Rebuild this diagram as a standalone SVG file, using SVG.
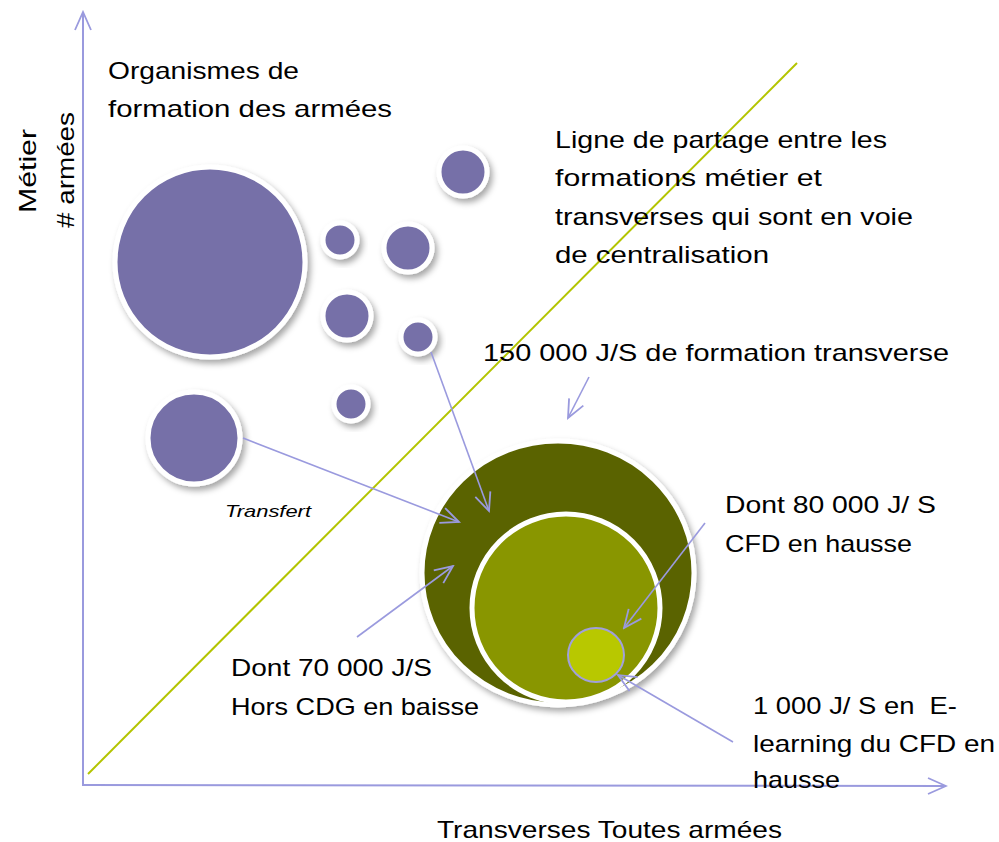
<svg xmlns="http://www.w3.org/2000/svg" width="999" height="842" viewBox="0 0 999 842">
<style>
text{font-family:"Liberation Sans",Arial,sans-serif;font-size:24px;fill:#000}
.it{font-style:italic;font-size:17px}
.pc{fill:#7670a8;stroke:#fff;stroke-width:5;filter:url(#sh)}
.conn{stroke:#9a9ade;stroke-width:1.6;fill:none}
.ax{stroke:#9a9ade;stroke-width:2;fill:none}
</style>
<defs>
<filter id="sh" x="-20%" y="-20%" width="150%" height="150%">
<feDropShadow dx="3" dy="4" stdDeviation="3" flood-color="#000" flood-opacity="0.35"/>
</filter>
<marker id="ah" viewBox="0 0 22 22" refX="20" refY="11" markerWidth="22" markerHeight="22" markerUnits="userSpaceOnUse" orient="auto">
<path d="M2,3 L20,11 L2,19" fill="none" stroke="#9a9ade" stroke-width="1.8"/>
</marker>
</defs>
<g id="axes">
<line class="ax" x1="83" y1="786" x2="83" y2="12" marker-end="url(#ah)"/>
<line class="ax" x1="83" y1="785" x2="946" y2="786" marker-end="url(#ah)"/>
<line x1="88" y1="774" x2="797" y2="63" stroke="#b3c400" stroke-width="2"/>
</g>
<g id="organismes">
<circle id="c-big" class="pc" cx="210" cy="262" r="95"/>
<circle id="c1" class="pc" cx="463" cy="172" r="24"/>
<circle id="c2" class="pc" cx="340" cy="240" r="17"/>
<circle id="c3" class="pc" cx="408" cy="248" r="24"/>
<circle id="c4" class="pc" cx="347" cy="316" r="24"/>
<circle id="c5" class="pc" cx="418" cy="337" r="17"/>
<circle id="c6" class="pc" cx="351" cy="404" r="17"/>
<circle id="c7" class="pc" cx="194" cy="438" r="46"/>
</g>
<g id="transverse">
<ellipse cx="558" cy="573" rx="136" ry="132" fill="#5a6300" stroke="#fff" stroke-width="5" filter="url(#sh)"/>
<circle cx="566" cy="608" r="94" fill="#899600" stroke="#fff" stroke-width="5"/>
<ellipse cx="596" cy="655" rx="28" ry="27" fill="#b8c800" stroke="#a0a0dc" stroke-width="2"/>
</g>
<g id="connectors">
<line class="conn" x1="431" y1="352" x2="489" y2="511" marker-end="url(#ah)"/>
<line class="conn" x1="243" y1="438" x2="459" y2="522" marker-end="url(#ah)"/>
<line class="conn" x1="357" y1="637" x2="453" y2="566" marker-end="url(#ah)"/>
<line class="conn" x1="589" y1="377" x2="568" y2="418" marker-end="url(#ah)"/>
<line class="conn" x1="705" y1="523" x2="624" y2="628" marker-end="url(#ah)"/>
<line class="conn" x1="733" y1="742" x2="618" y2="675" marker-end="url(#ah)"/>
</g>
<g id="labels">
<text x="108" y="79" textLength="191" lengthAdjust="spacingAndGlyphs">Organismes de</text>
<text x="108" y="117" textLength="284" lengthAdjust="spacingAndGlyphs">formation des armées</text>
<text transform="translate(36,171) rotate(-90)" text-anchor="middle" textLength="84" lengthAdjust="spacingAndGlyphs">Métier</text>
<text transform="translate(74,170) rotate(-90)" text-anchor="middle" textLength="116" lengthAdjust="spacingAndGlyphs"># armées</text>
<text x="555" y="148" textLength="332" lengthAdjust="spacingAndGlyphs">Ligne de partage entre les</text>
<text x="555" y="186" textLength="267" lengthAdjust="spacingAndGlyphs">formations métier et</text>
<text x="555" y="225" textLength="358" lengthAdjust="spacingAndGlyphs">transverses qui sont en voie</text>
<text x="555" y="263" textLength="214" lengthAdjust="spacingAndGlyphs">de centralisation</text>
<text x="483" y="361" textLength="466" lengthAdjust="spacingAndGlyphs">150 000 J/S de formation transverse</text>
<text class="it" x="225" y="517" textLength="86" lengthAdjust="spacingAndGlyphs">Transfert</text>
<text x="725" y="513" textLength="211" lengthAdjust="spacingAndGlyphs">Dont 80 000 J/ S</text>
<text x="725" y="552" textLength="187" lengthAdjust="spacingAndGlyphs">CFD en hausse</text>
<text x="231" y="676" textLength="201" lengthAdjust="spacingAndGlyphs">Dont 70 000 J/S</text>
<text x="231" y="715" textLength="248" lengthAdjust="spacingAndGlyphs">Hors CDG en baisse</text>
<text x="753" y="714" xml:space="preserve" textLength="204" lengthAdjust="spacingAndGlyphs">1 000 J/ S en  E-</text>
<text x="753" y="752" textLength="242" lengthAdjust="spacingAndGlyphs">learning du CFD en</text>
<text x="753" y="788" textLength="87" lengthAdjust="spacingAndGlyphs">hausse</text>
<text x="437" y="838" textLength="345" lengthAdjust="spacingAndGlyphs">Transverses Toutes armées</text>
</g>
</svg>
